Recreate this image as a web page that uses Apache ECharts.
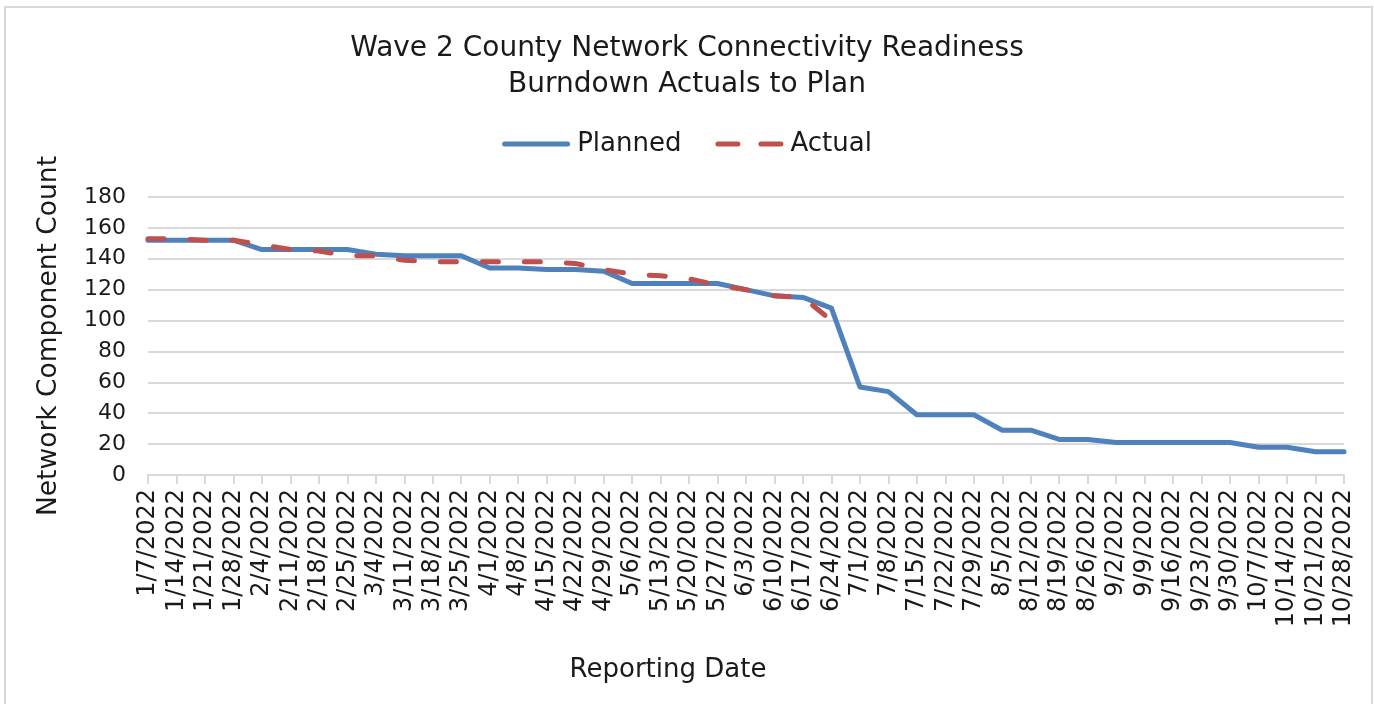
<!DOCTYPE html>
<html>
<head>
<meta charset="utf-8">
<script src="https://cdn.jsdelivr.net/npm/echarts@6/dist/echarts.min.js"></script>
<style>
  html, body { margin: 0; padding: 0; background: #fff; }
  #chart { width: 1374px; height: 704px; }
</style>
</head>
<body>
<div id="chart"></div>
<script>
// reporting dates (weekly)
var dates = ['1/7/2022', '1/14/2022', '1/21/2022', '1/28/2022', '2/4/2022', '2/11/2022', '2/18/2022', '2/25/2022',
	'3/4/2022', '3/11/2022', '3/18/2022', '3/25/2022', '4/1/2022', '4/8/2022', '4/15/2022', '4/22/2022', '4/29/2022',
	'5/6/2022', '5/13/2022', '5/20/2022', '5/27/2022', '6/3/2022', '6/10/2022', '6/17/2022', '6/24/2022',
	'7/1/2022', '7/8/2022', '7/15/2022', '7/22/2022', '7/29/2022', '8/5/2022', '8/12/2022', '8/19/2022', '8/26/2022',
	'9/2/2022', '9/9/2022', '9/16/2022', '9/23/2022', '9/30/2022', '10/7/2022', '10/14/2022', '10/21/2022', '10/28/2022'];

// planned burndown
var planned = [152, 152, 152, 152, 146, 146, 146, 146,
	143, 142, 142, 142, 134, 134, 133, 133, 132,
	124, 124, 124, 124, 120, 116, 115, 108,
	57, 54, 39, 39, 39, 29, 29, 23, 23,
	21, 21, 21, 21, 21, 18, 18, 15, 15];

// actuals (up to 6/24)
var actual = [153, 153, 152, 152, 149, 146, 145, 142,
	142, 139, 138, 138, 138, 138, 138, 137, 133,
	130, 129, 127, 123, 120, 116, 115, 100];

var font = 'DejaVu Sans';
var txt = '#1a1a1a';
var grey = '#d9d9d9';

var myChart = echarts.init(document.getElementById('chart'));
var option = {
	animation: false,
	textStyle: { fontFamily: font, color: txt },
	title: {
		text: 'Wave 2 County Network Connectivity Readiness\nBurndown Actuals to Plan',
		left: 'center',
		top: 26,
		textStyle: { fontFamily: font, fontSize: 28, fontWeight: 'normal', color: txt, lineHeight: 36 }
	},
	legend: {
		top: 126,
		left: 'center',
		itemWidth: 68,
		itemHeight: 5,
		itemGap: 34,
		symbolKeepAspect: false,
		textStyle: { fontFamily: font, fontSize: 26, color: txt, padding: [0, 0, 0, 2] },
		data: [
			{ name: 'Planned', icon: 'path://M2.5,0H65.5A2.5,2.5,0,0,1,65.5,5H2.5A2.5,2.5,0,0,1,2.5,0Z' },
			{ name: 'Actual', icon: 'path://M2.5,0H22.5A2.5,2.5,0,0,1,22.5,5H2.5A2.5,2.5,0,0,1,2.5,0Z M45.5,0H65.5A2.5,2.5,0,0,1,65.5,5H45.5A2.5,2.5,0,0,1,45.5,0Z' }
		]
	},
	grid: { left: 148, right: 30, top: 197, bottom: 229 },
	xAxis: {
		type: 'category',
		data: dates,
		boundaryGap: false,
		name: 'Reporting Date',
		nameLocation: 'middle',
		nameGap: 182,
		nameTextStyle: { fontFamily: font, fontSize: 26, color: txt, padding: [0, 156, 0, 0] },
		axisLine: { lineStyle: { color: grey, width: 2 } },
		axisTick: { show: true, length: 9, interval: 0, lineStyle: { color: grey, width: 2 } },
		axisLabel: { rotate: 90, interval: 0, margin: 14, fontFamily: font, fontSize: 24, color: txt },
		splitLine: { show: false }
	},
	yAxis: {
		type: 'value',
		min: 0,
		max: 180,
		interval: 20,
		name: 'Network Component Count',
		nameLocation: 'middle',
		nameGap: 85,
		nameTextStyle: { fontFamily: font, fontSize: 26.5, color: txt },
		axisLine: { show: false },
		axisTick: { show: false },
		axisLabel: { margin: 22, fontFamily: font, fontSize: 22, color: txt },
		splitLine: { lineStyle: { color: grey, width: 2 } }
	},
	graphic: [{
		type: 'rect',
		shape: { x: 5, y: 7, width: 1367, height: 710 },
		style: { fill: 'none', stroke: grey, lineWidth: 2 },
		silent: true
	}],
	series: [{
		name: 'Planned',
		type: 'line',
		data: planned,
		symbol: 'none',
		lineStyle: { color: '#4F81BD', width: 5, cap: 'round', join: 'round' },
		itemStyle: { color: '#4F81BD' }
	}, {
		name: 'Actual',
		type: 'line',
		data: actual,
		symbol: 'none',
		lineStyle: { color: '#C0504D', width: 5, type: [16, 26], cap: 'round', join: 'round' },
		itemStyle: { color: '#C0504D' }
	}]
};
myChart.setOption(option);
</script>
</body>
</html>
